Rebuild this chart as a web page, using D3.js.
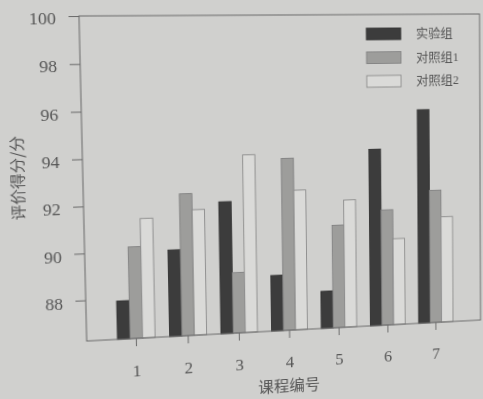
<!DOCTYPE html>
<html>
<head>
<meta charset="utf-8">
<script src="https://cdn.jsdelivr.net/npm/d3@7"></script>
<style>
  html, body { margin: 0; padding: 0; width: 483px; height: 399px; overflow: hidden; background: #d0d0ce; }
  #fig { position: absolute; left: 0; top: 0; transform-origin: 0 0; overflow: visible; }
  text { fill: #555; }
</style>
</head>
<body>
<svg id="fig" width="520" height="430"></svg>
<script>
// Course numbers, series names and scores
const courses = ["1", "2", "3", "4", "5", "6", "7"];
const seriesNames = ["实验组", "对照组1", "对照组2"];
const experimental = [87.9, 90.0, 92.0, 88.7, 87.9, 94.1, 95.8];
const control1 = [90.2, 92.4, 88.9, 93.8, 90.8, 91.4, 92.2];
const control2 = [91.4, 91.7, 94.0, 92.4, 91.9, 90.1, 91.0];
const yTicks = [88, 90, 92, 94, 96, 98, 100];
const yDomain = [86.25, 100];
const xTitle = "课程编号";
const yTitle = "评价得分/分";

const seriesValues = [experimental, control1, control2];
const fills = ["#3c3c3c", "#9d9d9b", "#dadad8"];
const strokes = ["#333", "#808080", "#8a8a8a"];

const serif = "'Liberation Serif', 'Noto Sans CJK SC', serif";
const cjk = "'Noto Sans CJK SC', sans-serif";

// plot frame
const plot = { left: 79, right: 485, top: 16, bottom: 341 };

const svg = d3.select("#fig");

const x0 = d3.scaleBand()
  .domain(courses)
  .range([plot.left, plot.right])
  .paddingInner(0.28)
  .paddingOuter(0.583);

const x1 = d3.scaleBand()
  .domain(seriesNames)
  .range([0, x0.bandwidth()]);

const y = d3.scaleLinear().domain(yDomain).range([plot.bottom, plot.top]);

// bars
const groups = svg.append("g").selectAll("g")
  .data(courses)
  .join("g")
  .attr("transform", d => `translate(${x0(d)},0)`);

groups.selectAll("rect")
  .data((c, i) => seriesNames.map((s, k) => ({ s, k, v: seriesValues[k][i] })))
  .join("rect")
  .attr("x", d => x1(d.s))
  .attr("y", d => y(d.v))
  .attr("width", x1.bandwidth())
  .attr("height", d => y(yDomain[0]) - y(d.v))
  .attr("fill", d => fills[d.k])
  .attr("stroke", d => strokes[d.k])
  .attr("stroke-width", 0.9);

// frame
svg.append("rect")
  .attr("x", plot.left).attr("y", plot.top)
  .attr("width", plot.right - plot.left).attr("height", plot.bottom - plot.top)
  .attr("fill", "none").attr("stroke", "#6a6a6a").attr("stroke-width", 1);

// y axis
const yAxis = svg.append("g")
  .attr("transform", `translate(${plot.left},0)`)
  .call(d3.axisLeft(y).tickValues(yTicks).tickSize(10).tickPadding(12));
yAxis.select(".domain").remove();
yAxis.selectAll("line").attr("stroke", "#6a6a6a");
yAxis.selectAll("text")
  .attr("dy", "0.45em")
  .style("font-family", serif).style("font-size", "17px").style("fill", "#555");

// x axis
const xAxis = svg.append("g")
  .attr("transform", `translate(0,${plot.bottom})`)
  .call(d3.axisBottom(x0).tickSize(8).tickPadding(19));
xAxis.select(".domain").remove();
xAxis.selectAll("line").attr("stroke", "#6a6a6a");
xAxis.selectAll("text")
  .style("font-family", serif).style("font-size", "17px").style("fill", "#555");

// axis titles
svg.append("text")
  .attr("x", 281).attr("y", plot.bottom + 57)
  .attr("text-anchor", "middle").attr("dominant-baseline", "central")
  .style("font-family", cjk).style("font-size", "16px")
  .text(xTitle);

svg.append("text")
  .attr("transform", `translate(16,175) rotate(-90)`)
  .attr("text-anchor", "middle").attr("dominant-baseline", "central")
  .style("font-family", cjk).style("font-size", "15.5px")
  .text(yTitle);

// legend
const legend = svg.append("g").attr("transform", `translate(365,30)`);
seriesNames.forEach((s, k) => {
  const row = legend.append("g").attr("transform", `translate(0,${k * 24.5})`);
  row.append("rect")
    .attr("width", 36).attr("height", 12)
    .attr("fill", fills[k]).attr("stroke", strokes[k]).attr("stroke-width", 0.9);
  row.append("text")
    .attr("x", 52).attr("y", 6)
    .attr("dominant-baseline", "central")
    .style("font-family", serif).style("font-size", "13px")
    .text(s);
});

// slight perspective tilt of the printed figure
function quadTransform(r, q) {
  const [x0q, y0q] = q[0], [x1q, y1q] = q[1], [x2q, y2q] = q[2], [x3q, y3q] = q[3];
  const sx = x0q - x1q + x2q - x3q, sy = y0q - y1q + y2q - y3q;
  const dx1 = x1q - x2q, dx2 = x3q - x2q, dy1 = y1q - y2q, dy2 = y3q - y2q;
  const det = dx1 * dy2 - dx2 * dy1;
  const g = (sx * dy2 - dx2 * sy) / det;
  const h = (dx1 * sy - sx * dy1) / det;
  const a = x1q - x0q + g * x1q, b = x3q - x0q + h * x3q, c = x0q;
  const d = y1q - y0q + g * y1q, e = y3q - y0q + h * y3q, f = y0q;
  const A = a / r.w, B = b / r.h, C = c - a * r.x / r.w - b * r.y / r.h;
  const D = d / r.w, E = e / r.h, F = f - d * r.x / r.w - e * r.y / r.h;
  const G = g / r.w, H = h / r.h, I = 1 - g * r.x / r.w - h * r.y / r.h;
  return `matrix3d(${[A, D, 0, G, B, E, 0, H, 0, 0, 1, 0, C, F, 0, I].join(",")})`;
}
const frameRect = { x: plot.left, y: plot.top, w: plot.right - plot.left, h: plot.bottom - plot.top };
const frameQuad = [[79, 16], [479.5, 14], [480.5, 320], [86.7, 341]];
d3.select("#fig").style("transform", quadTransform(frameRect, frameQuad));
</script>
</body>
</html>
